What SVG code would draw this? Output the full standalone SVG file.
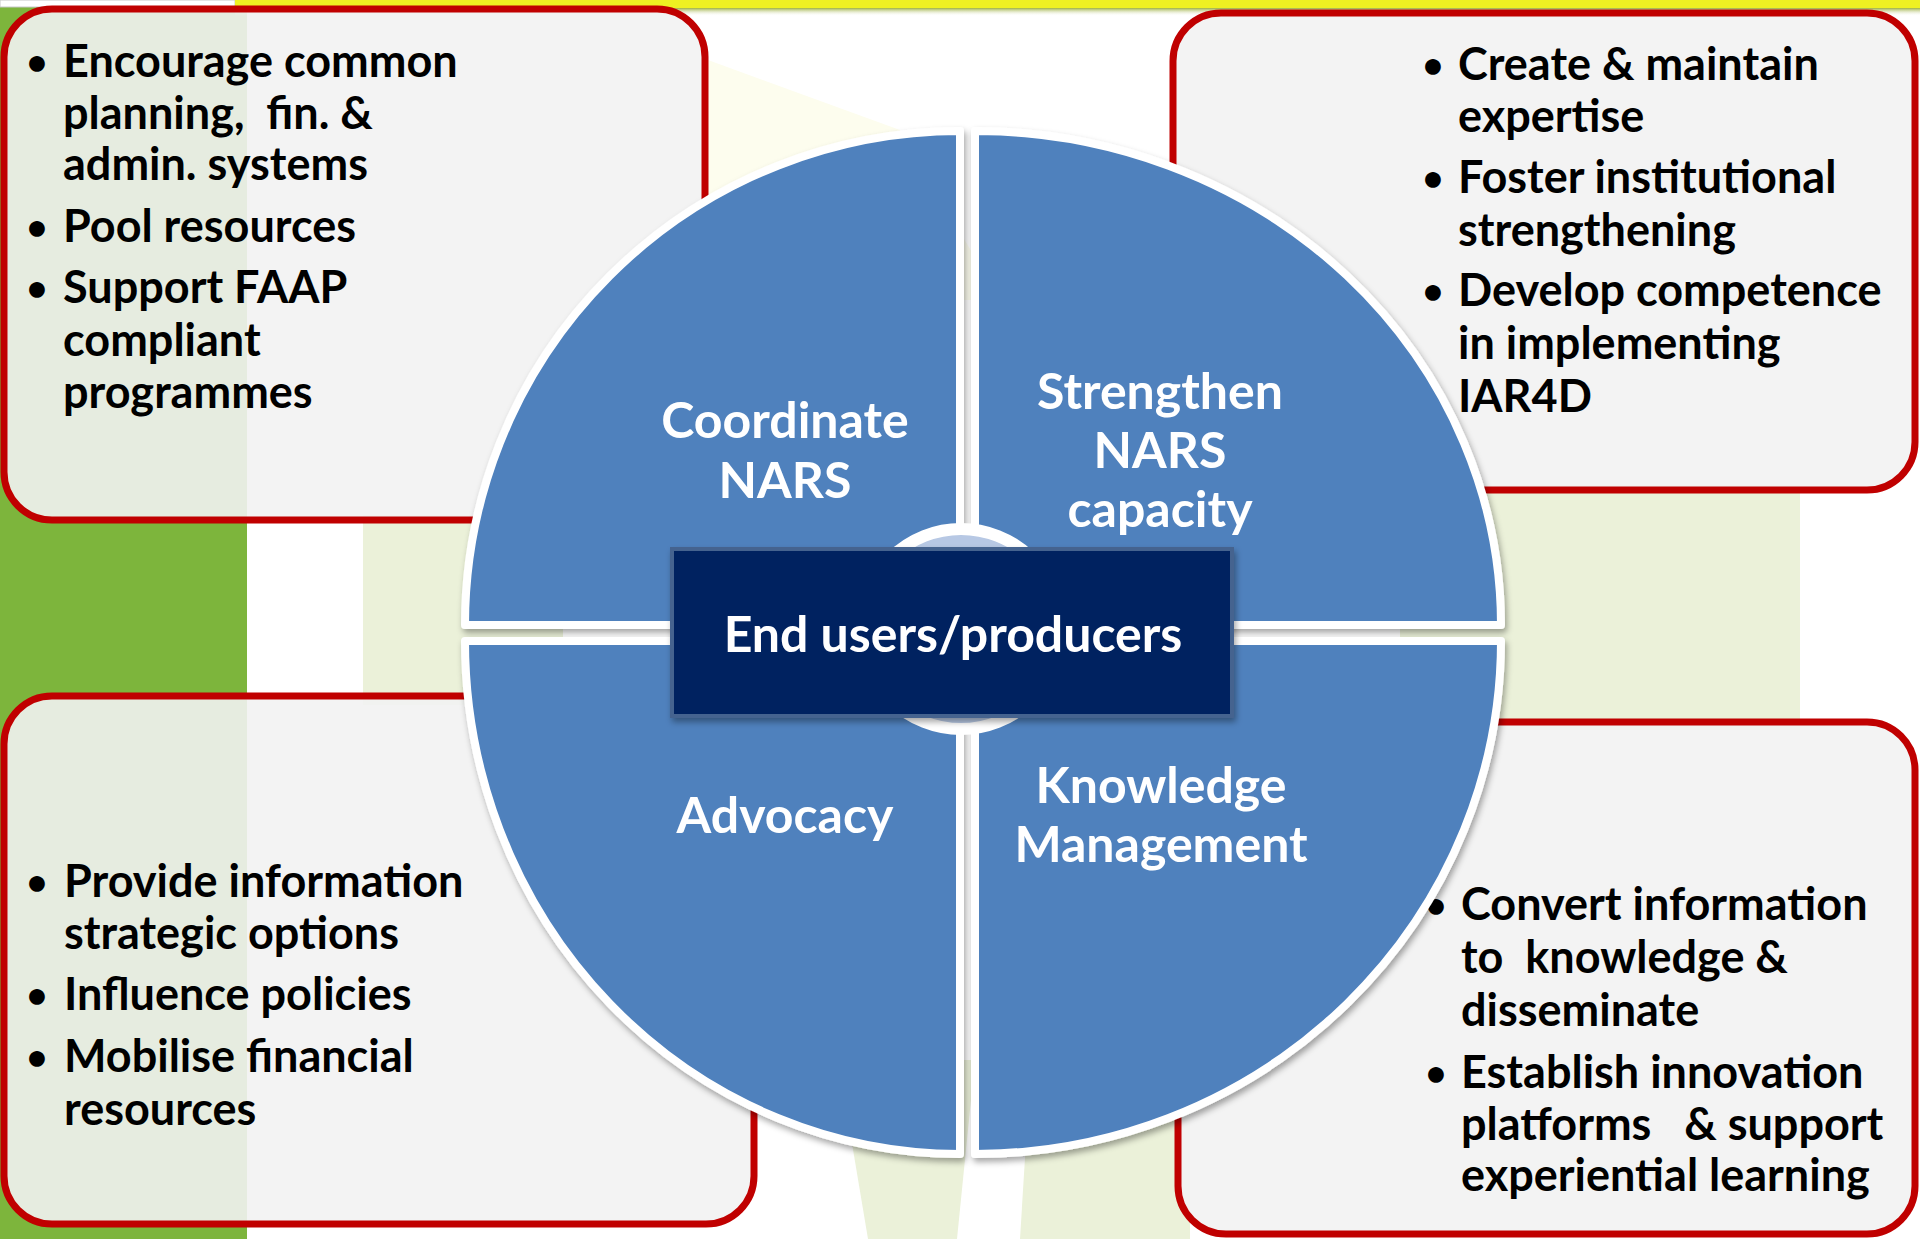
<svg xmlns="http://www.w3.org/2000/svg" width="1920" height="1239" viewBox="0 0 1920 1239">
<defs>
<style>
.box{fill:#F2F2F2;fill-opacity:0.9;stroke:#C00000;stroke-width:7}
.bt{font-family:Lato,"Liberation Sans",sans-serif;font-weight:700;font-size:45px;fill:#000}
.bu{font-family:Lato,"Liberation Sans",sans-serif;font-weight:700;font-size:36px;fill:#000;text-anchor:middle}
.q{fill:#4F81BD;stroke:#FFFFFF;stroke-width:8;stroke-linejoin:round;filter:url(#sh)}
.ql{font-family:Lato,"Liberation Sans",sans-serif;font-weight:700;font-size:50px;fill:#FFFFFF;text-anchor:middle}
</style>
<filter id="sh" x="-10%" y="-10%" width="120%" height="120%">
<feDropShadow dx="2" dy="4" stdDeviation="3" flood-color="#000" flood-opacity="0.35"/>
</filter>
<linearGradient id="topsh" x1="0" y1="0" x2="0" y2="1">
<stop offset="0" stop-color="#9DB040"/>
<stop offset="1" stop-color="#FFFFFF" stop-opacity="0"/>
</linearGradient>
</defs>
<g id="background">
<rect x="0" y="0" width="1920" height="1239" fill="#FFFFFF"/>
<rect x="363" y="515" width="200" height="190" fill="#EBF1D9"/>
<rect x="1400" y="485" width="400" height="245" fill="#EBF1D9"/>
<polygon points="760,1060 838,1060 868,1239 760,1239" fill="#FFFFFF"/>
<polygon points="838,1060 975,1060 957,1239 868,1239" fill="#EBF1D9"/>
<polygon points="1031,1060 1190,1060 1190,1239 1020,1239" fill="#EBF1D9"/>
<polygon points="708,60 900,130 1000,300 708,300" fill="#FDFDEE"/>
<rect x="0" y="0" width="247" height="1239" fill="#7DB53C"/>
<rect x="0" y="0" width="235" height="7" fill="#FFFFFF" stroke="#C8C8C8" stroke-width="1"/>
<rect x="235" y="0" width="1685" height="8" fill="#EEF022"/>
<rect x="235" y="8" width="1685" height="8" fill="url(#topsh)"/>
</g>
<g id="box-coordinate">
<rect class="box" x="4" y="9" width="701" height="511" rx="48" ry="48"/>
<text class="bu" x="37" y="75">•</text>
<text class="bt" x="63" y="77">Encourage common</text>
<text class="bt" x="63" y="129" xml:space="preserve">planning,  fin. &amp;</text>
<text class="bt" x="63" y="180">admin. systems</text>
<text class="bu" x="37" y="240">•</text>
<text class="bt" x="63" y="242">Pool resources</text>
<text class="bu" x="37" y="301">•</text>
<text class="bt" x="63" y="303">Support FAAP</text>
<text class="bt" x="63" y="356">compliant</text>
<text class="bt" x="63" y="408">programmes</text>
</g>
<g id="box-strengthen">
<rect class="box" x="1173" y="13" width="742" height="477" rx="48" ry="48"/>
<text class="bu" x="1433" y="78">•</text>
<text class="bt" x="1458" y="80">Create &amp; maintain</text>
<text class="bt" x="1458" y="132">expertise</text>
<text class="bu" x="1433" y="191">•</text>
<text class="bt" x="1458" y="193">Foster institutional</text>
<text class="bt" x="1458" y="246">strengthening</text>
<text class="bu" x="1433" y="304">•</text>
<text class="bt" x="1458" y="306">Develop competence</text>
<text class="bt" x="1458" y="359">in implementing</text>
<text class="bt" x="1458" y="412">IAR4D</text>
</g>
<g id="box-advocacy">
<rect class="box" x="4" y="696" width="750" height="528" rx="48" ry="48"/>
<text class="bu" x="37" y="895">•</text>
<text class="bt" x="64" y="897">Provide information</text>
<text class="bt" x="64" y="949">strategic options</text>
<text class="bu" x="37" y="1008">•</text>
<text class="bt" x="64" y="1010">Influence policies</text>
<text class="bu" x="37" y="1070">•</text>
<text class="bt" x="64" y="1072">Mobilise financial</text>
<text class="bt" x="64" y="1125">resources</text>
</g>
<g id="box-knowledge">
<rect class="box" x="1178" y="722" width="737" height="512" rx="48" ry="48"/>
<text class="bu" x="1436" y="918">•</text>
<text class="bt" x="1461" y="920">Convert information</text>
<text class="bt" x="1461" y="973" xml:space="preserve">to  knowledge &amp;</text>
<text class="bt" x="1461" y="1026">disseminate</text>
<text class="bu" x="1436" y="1086">•</text>
<text class="bt" x="1461" y="1088">Establish innovation</text>
<text class="bt" x="1461" y="1140" xml:space="preserve">platforms   &amp; support</text>
<text class="bt" x="1461" y="1191">experiential learning</text>
</g>
<g id="connectors"></g>
<g id="quadrant-coordinate">
<path class="q" d="M960 625 L465 625 A495 494 0 0 1 960 131 Z"/>
<text class="ql" x="785" y="438">Coordinate</text>
<text class="ql" x="785" y="498">NARS</text>
</g>
<g id="quadrant-strengthen">
<path class="q" d="M975 625 L975 131 A526 494 0 0 1 1501 625 Z"/>
<text class="ql" x="1160" y="409">Strengthen</text>
<text class="ql" x="1160" y="468">NARS</text>
<text class="ql" x="1160" y="527">capacity</text>
</g>
<g id="quadrant-advocacy">
<path class="q" d="M960 641 L960 1154 A495 513 0 0 1 465 641 Z"/>
<text class="ql" x="785" y="833">Advocacy</text>
</g>
<g id="quadrant-knowledge">
<path class="q" d="M975 641 L1501 641 A526 513 0 0 1 975 1154 Z"/>
<text class="ql" x="1161" y="803">Knowledge</text>
<text class="ql" x="1161" y="862">Management</text>
</g>
<g id="center">
<circle cx="961" cy="629" r="100" fill="#B7C8E4" stroke="#FFFFFF" stroke-width="12"/>
<rect x="672" y="549" width="560" height="167" fill="#002060" stroke="#44638F" stroke-width="4" filter="url(#sh)"/>
<text class="ql" x="953" y="652" style="font-size:50px">End users/producers</text>
</g>
</svg>
